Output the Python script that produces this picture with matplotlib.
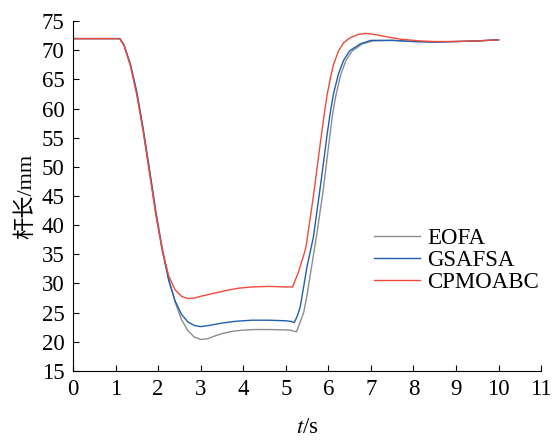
import matplotlib
matplotlib.use("Agg")
import matplotlib.pyplot as plt

plt.rcParams['font.family'] = ['Liberation Serif', 'Noto Sans CJK SC']
plt.rcParams['mathtext.fontset'] = 'stix'
plt.rcParams['font.size'] = 16

# EOFA (gray)
t_eofa = [0, 1.0, 1.1, 1.2, 1.35, 1.5, 1.65, 1.8, 1.95, 2.1, 2.25, 2.4, 2.55, 2.7, 2.85,
          3.0, 3.15, 3.3, 3.5, 3.75, 4.0, 4.3, 4.6, 4.9, 5.1, 5.25, 5.32, 5.42, 5.5, 5.58,
          5.73, 5.88, 5.96, 6.03, 6.1, 6.17, 6.29, 6.41, 6.55, 6.8, 7.05,
          7.5, 8.0, 8.5, 9.0, 9.5, 10.0]
y_eofa = [72, 72, 72, 70.8, 67.5, 62.8, 56.5, 49.5, 42.3, 36.0, 30.8, 26.8, 23.8, 21.9, 20.8,
          20.4, 20.5, 20.9, 21.4, 21.8, 22.0, 22.1, 22.1, 22.05, 22.0, 21.7, 23.0, 25.0, 28.0, 31.7,
          38.5, 46.0, 50.8, 55.0, 59.0, 62.0, 65.8, 68.2, 69.8, 71.1, 71.6,
          71.7, 71.5, 71.4, 71.5, 71.6, 71.8]

# GSAFSA (blue)
t_gsafsa = [0, 1.0, 1.1, 1.2, 1.35, 1.5, 1.65, 1.8, 1.95, 2.1, 2.25, 2.4, 2.55, 2.7, 2.85,
            3.0, 3.2, 3.5, 3.8, 4.2, 4.6, 5.0, 5.12, 5.2, 5.27, 5.34, 5.5, 5.65, 5.81,
            5.9, 5.97, 6.05, 6.12, 6.24, 6.36, 6.5, 6.75, 7.0,
            7.5, 8.0, 8.5, 9.0, 9.5, 10.0]
y_gsafsa = [72, 72, 72, 70.9, 67.6, 62.8, 56.4, 49.3, 42.0, 35.6, 30.5, 27.0, 24.7, 23.4, 22.8,
            22.6, 22.8, 23.2, 23.5, 23.7, 23.7, 23.6, 23.5, 23.3, 24.4, 26.0, 32.9, 38.0, 46.5,
            51.5, 55.5, 59.5, 62.5, 66.0, 68.3, 69.9, 71.1, 71.7,
            71.7, 71.5, 71.4, 71.5, 71.6, 71.8]

# CPMOABC (red)
t_cpmoabc = [0, 1.0, 1.1, 1.2, 1.35, 1.5, 1.65, 1.8, 1.95, 2.1, 2.25, 2.4, 2.55, 2.7, 2.85,
             3.0, 3.3, 3.6, 3.9, 4.2, 4.6, 5.0, 5.16, 5.3, 5.44, 5.48, 5.56, 5.65, 5.73,
             5.81, 5.89, 5.97, 6.05, 6.12, 6.24, 6.36, 6.5, 6.7, 6.87, 7.1, 7.38, 7.7,
             8.16, 8.5, 9.0, 9.5, 10.0]
y_cpmoabc = [72, 72, 72, 70.8, 67.3, 62.3, 56.0, 48.8, 41.6, 35.6, 31.3, 28.9, 27.8, 27.4, 27.5,
             27.8, 28.3, 28.8, 29.2, 29.4, 29.5, 29.4, 29.4, 32.0, 35.3, 36.5, 40.5, 45.0, 49.5,
             54.0, 58.3, 62.3, 65.3, 67.5, 69.9, 71.3, 72.1, 72.7, 72.9, 72.7, 72.3, 71.9,
             71.6, 71.5, 71.5, 71.6, 71.8]

fig = plt.figure(figsize=(5.55, 4.4), dpi=100)
ax = fig.add_axes([0.1315, 0.157, 0.8435, 0.795])

ax.plot(t_eofa, y_eofa, color='#8c8c8c', lw=1.0, label='EOFA')
ax.plot(t_gsafsa, y_gsafsa, color='#1f5fb0', lw=1.0, label='GSAFSA')
ax.plot(t_cpmoabc, y_cpmoabc, color='#f04a3a', lw=1.0, label='CPMOABC')

ax.set_xlim(0, 11)
ax.set_ylim(15, 75)
ax.set_xticks(range(0, 12))
ax.set_yticks(range(15, 80, 5))
ax.spines['top'].set_visible(False)
ax.spines['right'].set_visible(False)
ax.tick_params(direction='in', length=4, labelsize=16.5, pad=6)

ax.set_xlabel('$t$/s', fontsize=16.5, labelpad=12)
ax.set_ylabel('杆长/mm', fontsize=16, labelpad=4)

ax.legend(loc='center left', bbox_to_anchor=(0.6, 0.315), frameon=False,
          fontsize=16.5, handlelength=2.0, labelspacing=0.05, handletextpad=0.3)

fig.savefig('out.png', dpi=100)
